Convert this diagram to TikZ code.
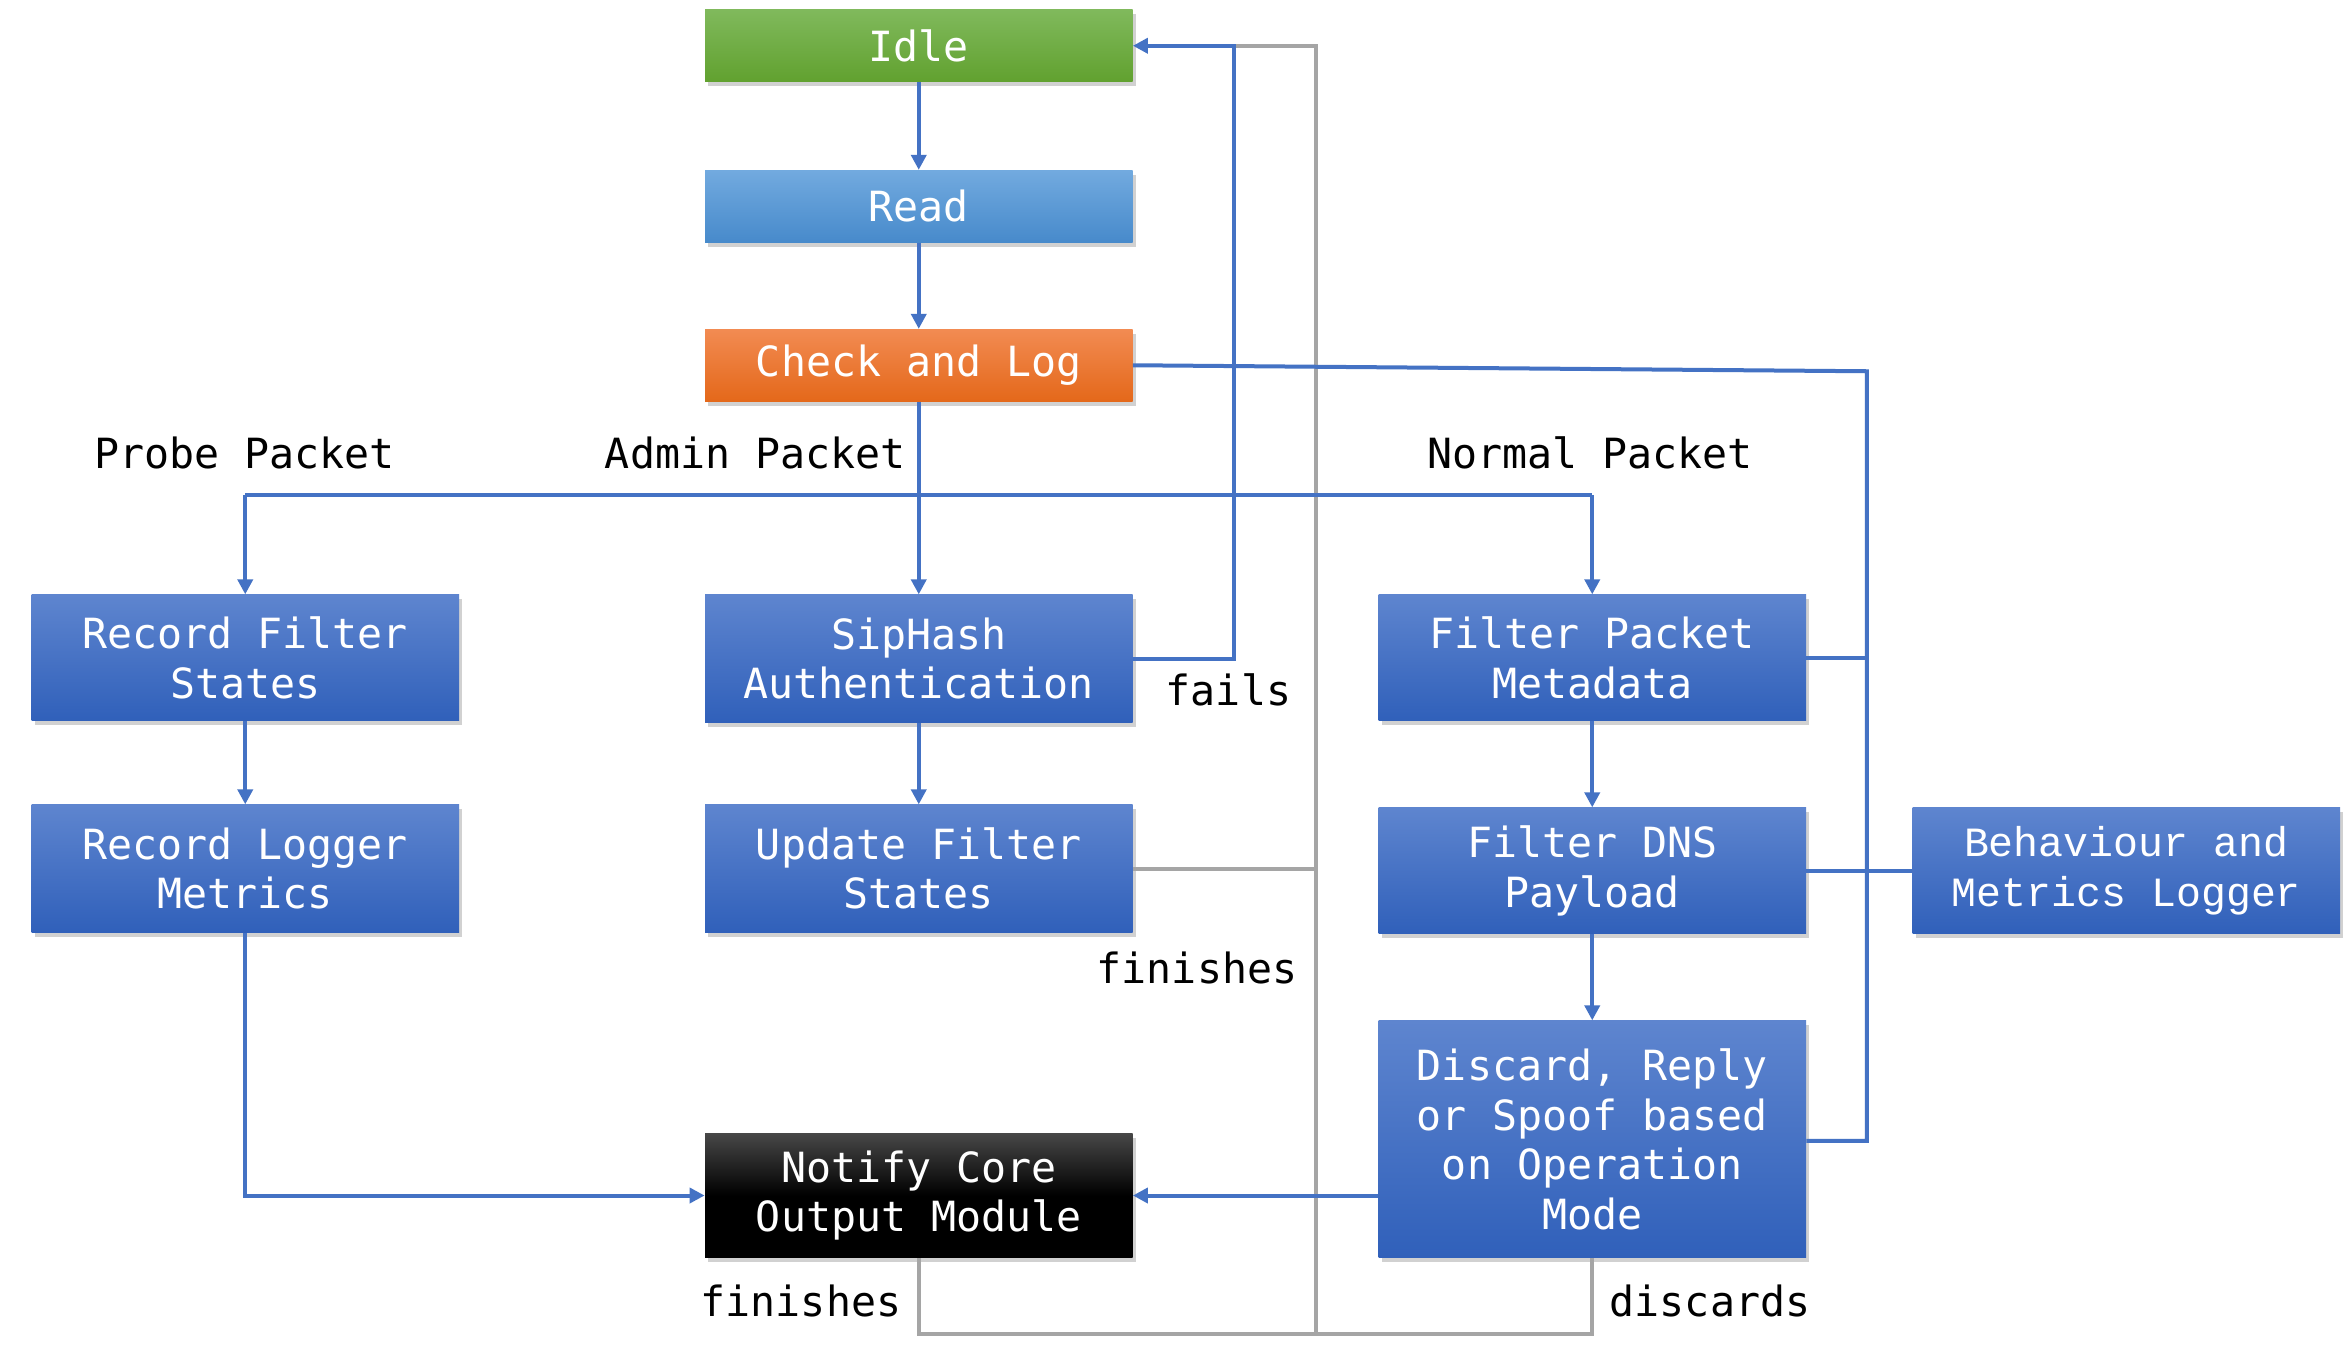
\documentclass[tikz,border=0pt]{standalone}
\usepackage{fontspec}
\newfontfamily\boxfont{DejaVu Sans Mono}
\newfontfamily\bmlfont{Liberation Mono}
\usetikzlibrary{arrows.meta,calc}
\definecolor{lineblue}{HTML}{4472C4}
\definecolor{linegrey}{HTML}{A5A5A5}
\definecolor{bxtop}{HTML}{5E85CF}
\definecolor{bxbot}{HTML}{3060BA}
\definecolor{grtop}{HTML}{80B95C}
\definecolor{grbot}{HTML}{61A12F}
\definecolor{rdtop}{HTML}{72AADF}
\definecolor{rdbot}{HTML}{478ACB}
\definecolor{ortop}{HTML}{F28B52}
\definecolor{orbot}{HTML}{E4681A}
\tikzset{
  basebox/.style={rectangle, inner sep=0pt, minimum width=213.75pt, text=white, align=center,
    font=\boxfont\fontsize{20.8}{24.75}\selectfont,
    preaction={fill=black, opacity=0.18, transform canvas={shift={(1.5pt,-2.2pt)}}}},
  bluebox/.style={basebox, top color=bxtop, bottom color=bxbot},
  greenbox/.style={basebox, top color=grtop, bottom color=grbot},
  readbox/.style={basebox, top color=rdtop, bottom color=rdbot},
  orangebox/.style={basebox, top color=ortop, bottom color=orbot},
  blackbox/.style={basebox, top color=black!72, bottom color=black, middle color=black},
  lbl/.style={inner sep=0pt, text=black, font=\boxfont\fontsize{20.8}{24.75}\selectfont},
  bl/.style={draw=lineblue, line width=2pt},
  arr/.style={bl, -{Triangle[length=7.5pt,width=7.5pt]}},
  gl/.style={draw=linegrey, line width=2pt},
}
\begin{document}
\begin{tikzpicture}[x=0.75pt,y=-0.75pt]
\useasboundingbox (0,0) rectangle (1564.67,900);
\fill[white] (0,0) rectangle (1564.67,900);

% nodes
\node[greenbox, minimum height=36pt] (idle) at (612.5,30.5) {Idle};
\node[readbox, minimum height=36pt] (read) at (612.5,137.5) {Read};
\node[orangebox, minimum height=36pt] (check) at (612.5,243.5) {Check and Log};
\node[bluebox, minimum height=63pt] (rfs) at (163.5,438.5) {Record Filter\\States};
\node[bluebox, minimum height=63.75pt] (sip) at (612.5,439) {SipHash\\Authentication};
\node[bluebox, minimum height=63pt] (fpm) at (1061.5,438.5) {Filter Packet\\Metadata};
\node[bluebox, minimum height=63.75pt] (rlm) at (163.5,579) {Record Logger\\Metrics};
\node[bluebox, minimum height=63.75pt] (ufs) at (612.5,579) {Update Filter\\States};
\node[bluebox, minimum height=63pt] (fdns) at (1061.5,580.5) {Filter DNS\\Payload};
\node[bluebox, minimum height=63pt, font=\bmlfont\fontsize{20.8}{24.75}\selectfont] (bml) at (1417.5,580.5) {Behaviour and\\Metrics Logger};
\node[bluebox, minimum height=118.5pt] (disc) at (1061.5,759.5) {Discard, Reply\\or Spoof based\\on Operation\\Mode};
\node[blackbox, minimum height=62.25pt] (notify) at (612.5,797) {Notify Core\\Output Module};

% labels
\node[lbl] (lprobe) at (163,302) {Probe Packet};
\node[lbl] (ladmin) at (503.5,302) {Admin Packet};
\node[lbl] (lnormal) at (1060,302) {Normal Packet};
\node[lbl] (lfails) at (819,460) {fails};
\node[lbl] (lfin1) at (798,645) {finishes};
\node[lbl] (lfin2) at (534,867) {finishes};
\node[lbl] (ldisc) at (1140,867) {discards};

% coordinates
\coordinate (busL) at (163.5,330);
\coordinate (busR) at (1061.5,330);
\coordinate (fTop) at (822.5,30.5);
\coordinate (gTop) at (877.5,30.5);
\coordinate (gBot) at (877.5,889);
\coordinate (gL) at (612.5,889);
\coordinate (gR) at (1061.5,889);
\coordinate (cR) at (1244.5,247.5);
\coordinate (cB) at (1244.5,760.5);

% grey connectors (behind)
\draw[gl] (ufs.east) -- (ufs.east -| gTop);
\draw[gl] (fTop) -- (gTop) -- (gBot);
\draw[gl] (notify.south) -- (gL) -- (gR) -- (disc.south);

% blue connectors
\draw[arr] (idle.south) -- (read.north);
\draw[arr] (read.south) -- (check.north);
\draw[arr] (check.south) -- (sip.north);
\draw[bl] (busL) -- (busR);
\draw[arr] (busL) -- (rfs.north);
\draw[arr] (busR) -- (fpm.north);
\draw[arr] (rfs.south) -- (rlm.north);
\draw[arr] (sip.south) -- (ufs.north);
\draw[arr] (fpm.south) -- (fdns.north);
\draw[arr] (fdns.south) -- (disc.north);
\draw[arr] (sip.east) -| (fTop) -- (idle.east);
\draw[arr] (rlm.south) |- (notify.west);
\draw[arr] (disc.west |- notify.east) -- (notify.east);
\draw[bl] (check.east) -- (cR) -- (cB) -- (cB -| disc.east);
\draw[bl] (fpm.east) -- (fpm.east -| cR);
\draw[bl] (fdns.east) -- (bml.west);
\end{tikzpicture}
\end{document}
